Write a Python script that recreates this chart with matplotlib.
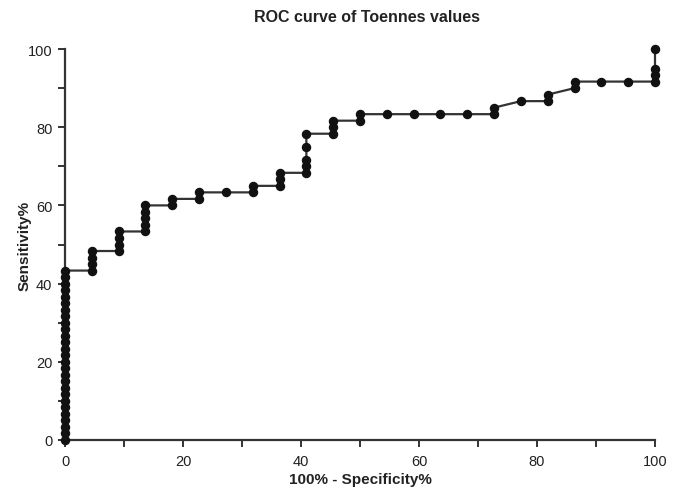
import matplotlib
matplotlib.use("Agg")
import matplotlib.pyplot as plt
from matplotlib.ticker import MultipleLocator

plt.rcParams['font.family'] = ['Liberation Sans', 'DejaVu Sans']

step_x = 100 / 22
step_y = 100 / 60

# x index (in units of 1/22) and y index (in units of 1/60) of each ROC point
x_idx = [0] * 27 + [1] * 4 + [2] * 4 + [3] * 5 + [4] * 2 + [5] * 2 + [6] + [7] * 2 + [8] * 3 \
        + [9] * 5 + [10] * 3 + [11] * 2 + [12, 13, 14, 15] + [16] * 2 + [17] + [18] * 2 \
        + [19] * 2 + [20, 21] + [22] * 4
y_idx = list(range(0, 27)) + [26, 27, 28, 29] + [29, 30, 31, 32] + [32, 33, 34, 35, 36] \
        + [36, 37] + [37, 38] + [38] + [38, 39] + [39, 40, 41] \
        + [41, 42, 43, 45, 47] + [47, 48, 49] + [49, 50] + [50, 50, 50, 50] + [50, 51] + [52] \
        + [52, 53] + [54, 55] + [55, 55] + [55, 56, 57, 60]

x_vals = [i * step_x for i in x_idx]
y_vals = [j * step_y for j in y_idx]

fig = plt.figure(figsize=(6.75, 4.89), dpi=100)
ax = fig.add_axes([65 / 675, 1 - 441 / 489, 590 / 675, 391 / 489])

ax.plot(x_vals, y_vals, color='#333333', linewidth=1.6, marker='o', markersize=5.8,
        markerfacecolor='#111111', markeredgecolor='#111111', clip_on=False, zorder=3)

ax.set_xlim(0, 100)
ax.set_ylim(0, 100)
ax.xaxis.set_major_locator(MultipleLocator(20))
ax.xaxis.set_minor_locator(MultipleLocator(10))
ax.yaxis.set_major_locator(MultipleLocator(20))
ax.yaxis.set_minor_locator(MultipleLocator(10))
for s in ['top', 'right']:
    ax.spines[s].set_visible(False)
for s in ['left', 'bottom']:
    ax.spines[s].set_linewidth(1.6)
    ax.spines[s].set_color('#333333')
ax.tick_params(which='both', direction='out', width=1.4, color='#333333', labelsize=10.5,
               labelcolor='#222222', length=5)
ax.tick_params(axis='y', pad=4)
ax.tick_params(axis='x', pad=5)

ax.set_xlabel('100% - Specificity%', fontsize=11, fontweight='bold', color='#222222', labelpad=3)
ax.set_ylabel('Sensitivity%', fontsize=11, fontweight='bold', color='#222222', labelpad=-3)
fig.text(0.5 + 30 / 675, 1 - 18 / 489, 'ROC curve of Toennes values', ha='center', va='center',
         fontsize=11.5, fontweight='bold', color='#222222')

fig.savefig('out.png', dpi=100)
